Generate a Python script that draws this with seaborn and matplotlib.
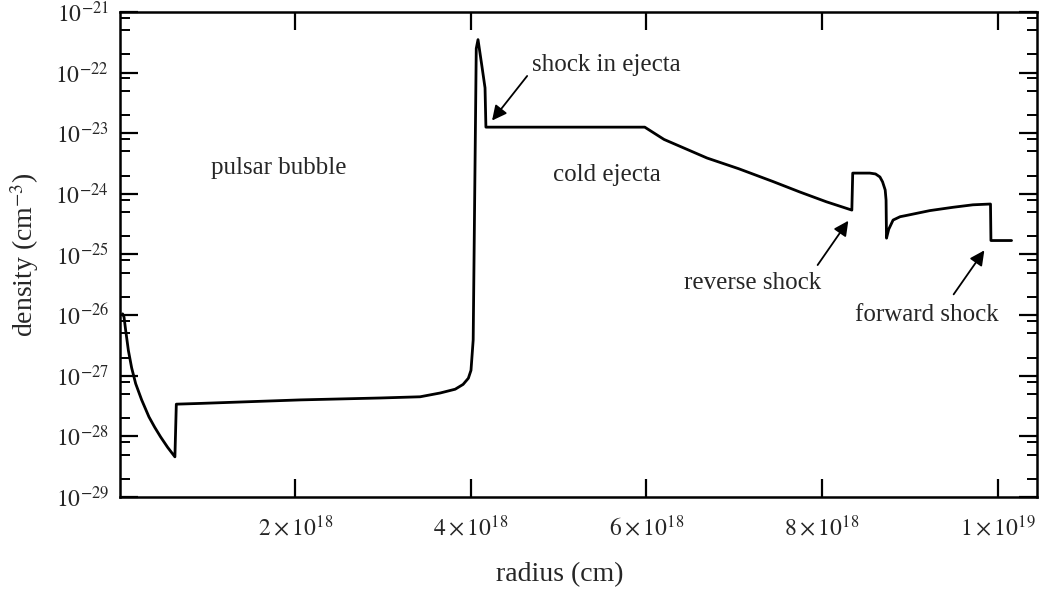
#!/usr/bin/env python3

import matplotlib
matplotlib.use("Agg")
import matplotlib.pyplot as plt
import matplotlib.ticker as mticker
import pandas as pd
import seaborn as sns

# density profile of a pulsar wind nebula inside its SNR
radius_e18 = [0.03, 0.046, 0.065, 0.096, 0.133, 0.179, 0.247, 0.33, 0.395, 0.463, 0.543,
              0.626, 0.642,
              0.92, 2.06, 2.97, 3.42, 3.65, 3.82, 3.91, 3.97, 4.00, 4.025,
              4.06, 4.08, 4.125, 4.16, 4.17,
              5.98, 6.2, 6.69, 7.05, 7.44, 7.75, 8.05, 8.34, 8.35,
              8.545, 8.61, 8.66, 8.69, 8.72, 8.73, 8.735,
              8.76, 8.81, 8.89, 8.96, 9.23, 9.49, 9.72, 9.92, 9.925, 10.16]
density = [1.05e-26, 9.3e-27, 5.6e-27, 2.6e-27, 1.35e-27, 7.4e-28, 4.0e-28, 2.1e-28, 1.42e-28,
           9.8e-29, 6.6e-29, 4.6e-29, 3.4e-28,
           3.5e-28, 4.0e-28, 4.3e-28, 4.5e-28, 5.2e-28, 6.0e-28, 7.2e-28, 9.1e-28, 1.23e-27,
           3.9e-27,
           2.5e-22, 3.5e-22, 1.26e-22, 5.6e-23, 1.26e-23,
           1.26e-23, 7.9e-24, 3.9e-24, 2.6e-24, 1.6e-24, 1.07e-24, 7.4e-25, 5.4e-25, 2.2e-24,
           2.2e-24, 2.13e-24, 1.9e-24, 1.58e-24, 1.16e-24, 7.9e-25, 1.86e-25,
           2.6e-25, 3.7e-25, 4.2e-25, 4.4e-25, 5.3e-25, 6.0e-25, 6.6e-25, 6.8e-25, 1.7e-25, 1.7e-25]

x_tick_vals = [2e18, 4e18, 6e18, 8e18, 1e19]
x_tick_labels = [r"$2\times10^{18}$", r"$4\times10^{18}$", r"$6\times10^{18}$",
                 r"$8\times10^{18}$", r"$1\times10^{19}$"]
y_tick_vals = [1e-21, 1e-22, 1e-23, 1e-24, 1e-25, 1e-26, 1e-27, 1e-28, 1e-29]
y_tick_labels = [r"$10^{-21}$", r"$10^{-22}$", r"$10^{-23}$", r"$10^{-24}$", r"$10^{-25}$",
                 r"$10^{-26}$", r"$10^{-27}$", r"$10^{-28}$", r"$10^{-29}$"]

profile = pd.DataFrame({"radius": [r * 1e18 for r in radius_e18], "density": density})

sns.set_style("white")
plt.rcParams["font.family"] = ["Liberation Serif", "DejaVu Serif"]
plt.rcParams["mathtext.fontset"] = "stix"

fig = plt.figure(figsize=(10.46, 5.90), dpi=100)
ax = fig.add_axes([0.1147, 0.1576, 0.8767, 0.8221])

sns.lineplot(data=profile, x="radius", y="density", sort=False, estimator=None,
             color="black", linewidth=2.0, ax=ax)

ax.set_yscale("log")
ax.set_xlim(0, 1.045e19)
ax.set_ylim(1e-29, 1e-21)

ax.xaxis.set_major_locator(mticker.FixedLocator(x_tick_vals))
ax.xaxis.set_major_formatter(mticker.FixedFormatter(x_tick_labels))
ax.xaxis.set_minor_locator(mticker.NullLocator())
ax.yaxis.set_major_locator(mticker.FixedLocator(y_tick_vals))
ax.yaxis.set_major_formatter(mticker.FixedFormatter(y_tick_labels))
ax.yaxis.set_minor_locator(mticker.LogLocator(base=10, subs=[2, 5, 8], numticks=50))
ax.yaxis.set_minor_formatter(mticker.NullFormatter())

ax.tick_params(which="both", direction="in", top=True, right=True, left=True, bottom=True,
               color="black")
ax.tick_params(which="major", length=13, width=1.6, labelsize=17)
ax.tick_params(which="minor", length=7, width=1.4)
ax.tick_params(axis="x", which="major", pad=13)
ax.tick_params(axis="y", which="major", pad=8)
for sp in ax.spines.values():
    sp.set_linewidth(1.8)
    sp.set_color("black")

ax.set_xlabel("radius (cm)", fontsize=20, labelpad=15)
ax.xaxis.label.set_x(0.48)
ax.set_ylabel("density (cm$^{-3}$)", fontsize=20, labelpad=10)

fs = 18
ax.text(1.81e18, 2.67e-24, "pulsar bubble", fontsize=fs, ha="center", va="center")
ax.text(5.55e18, 2.04e-24, "cold ejecta", fontsize=fs, ha="center", va="center")
arrow = dict(arrowstyle="-|>", color="black", lw=1.3, mutation_scale=22,
             shrinkA=0, shrinkB=0)
ax.text(5.54e18, 1.33e-22, "shock in ejecta", fontsize=fs, ha="center", va="center")
ax.annotate("", xy=(4.24e18, 1.62e-23), xytext=(4.64e18, 8.8e-23), arrowprops=arrow)
ax.text(7.21e18, 3.4e-26, "reverse shock", fontsize=fs, ha="center", va="center")
ax.annotate("", xy=(8.30e18, 3.6e-25), xytext=(7.95e18, 6.7e-26), arrowprops=arrow)
ax.text(9.19e18, 1.0e-26, "forward shock", fontsize=fs, ha="center", va="center")
ax.annotate("", xy=(9.85e18, 1.17e-25), xytext=(9.50e18, 2.2e-26), arrowprops=arrow)

fig.savefig("out.png", dpi=100)
